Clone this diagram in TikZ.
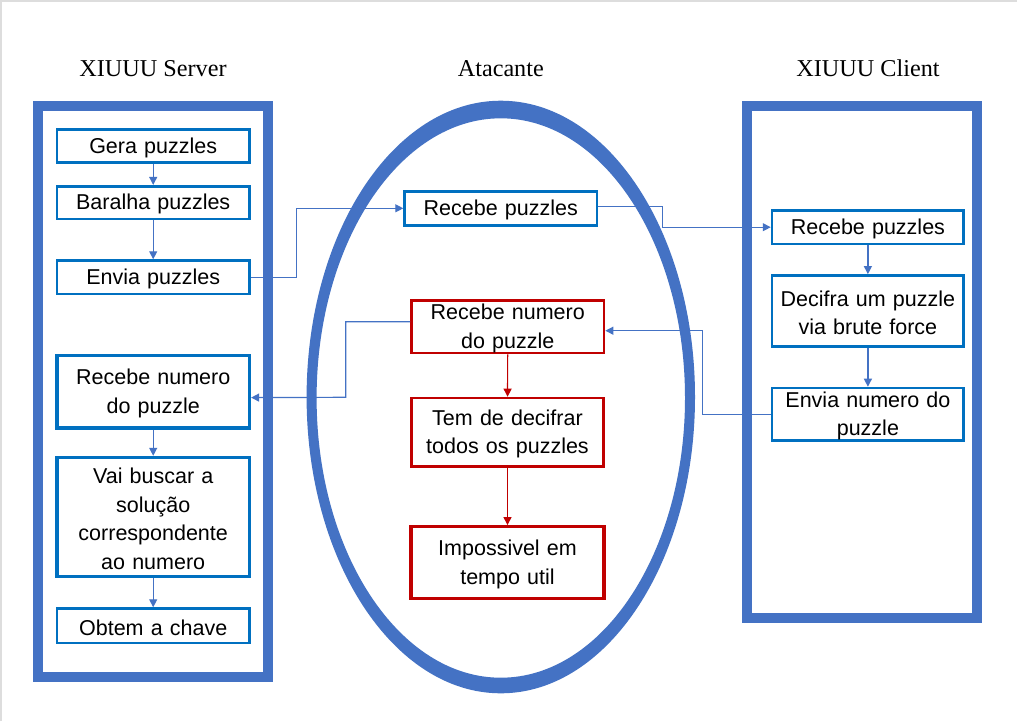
\documentclass[tikz,border=0pt]{standalone}
\usepackage{fontspec}
\setmainfont{Liberation Serif}
\newfontfamily\arialf{Liberation Sans}
\usetikzlibrary{arrows.meta,calc}
\definecolor{bigblue}{HTML}{4472C4}
\definecolor{boxblue}{HTML}{0070C0}
\definecolor{boxred}{HTML}{C00000}
\definecolor{edgegray}{HTML}{DDDDDD}
\begin{document}
\begin{tikzpicture}[x=1pt,y=-1pt,
  boxtext/.style={inner sep=0pt,fill=white,align=center,text width=190pt,
    font=\arialf\fontsize{21.5}{28.5}\selectfont,
    execute at begin node={\rule{0pt}{19.2pt}}},
  bbox/.style={boxtext,draw=boxblue,line width=2.6pt},
  bboxthick/.style={bbox,line width=3.3pt},
  rbox/.style={boxtext,draw=boxred,line width=2.6pt},
  rboxthick/.style={rbox,line width=3.3pt},
  title/.style={anchor=base,inner sep=0pt,font=\fontsize{24.2}{28}\selectfont},
  conn/.style={draw=bigblue,line width=1.2pt,-{Triangle[length=8pt,width=8pt]}},
  rconn/.style={draw=boxred,line width=1.2pt,-{Triangle[length=8pt,width=8pt]}},
  frame/.style={draw=bigblue,line width=10pt}
]
\useasboundingbox (0,0) rectangle (1017,721);
\fill[white] (0,0) rectangle (1017,721);
\draw[edgegray,line width=1.5pt] (0.75,721) -- (0.75,0.75) -- (1017,0.75);

% titles
\node[title] (tserver) at (153,76) {XIUUU Server};
\node[title] (tatk) at (500.8,76) {Atacante};
\node[title] (tclient) at (868,76) {XIUUU Client};

% containers
\draw[frame] (38,105.5) rectangle (268,676.7);
\draw[frame] (746.7,105.5) rectangle (976.7,617.8);
\fill[bigblue,even odd rule] (500.8,397) ellipse [x radius=194.2pt, y radius=296.3pt]
  (500.8,398) ellipse [x radius=184.2pt, y radius=279.7pt];

% server column
\node[bbox,minimum width=192.5pt,minimum height=33.3pt] (gera) at (153.2,146) {Gera puzzles};
\node[bbox,minimum width=192.5pt,minimum height=32.6pt] (baralha) at (153.2,202.5) {Baralha puzzles};
\node[bbox,minimum width=192.5pt,minimum height=33.3pt] (envia) at (153.2,277.2) {Envia puzzles};
\node[bboxthick,minimum width=192.5pt,minimum height=72.7pt] (srecnum) at (153.2,391.5) {Recebe numero\\do puzzle};
\node[bboxthick,minimum width=192.5pt,minimum height=118.7pt] (vai) at (153.2,516.8) {Vai buscar a\\solução\\correspondente\\ao numero};
\node[bbox,minimum width=192.5pt,minimum height=34.3pt] (obtem) at (153.2,625.7) {Obtem a chave};

% attacker column
\node[bbox,minimum width=192.4pt,minimum height=34pt] (recpz) at (500.8,208.3) {Recebe puzzles};
\node[rbox,minimum width=192.7pt,minimum height=52.4pt] (rednum) at (507.7,326.8) {Recebe numero\\do puzzle};
\node[rbox,minimum width=192.4pt,minimum height=68.4pt] (tem) at (507.5,432.2) {Tem de decifrar\\todos os puzzles};
\node[rboxthick,minimum width=193pt,minimum height=71.6pt] (imp) at (507.5,562.5) {Impossivel em\\tempo util};

% client column
\node[bbox,minimum width=191.7pt,minimum height=33.3pt] (crecpz) at (867.9,227.2) {Recebe puzzles};
\node[bbox,minimum width=191.7pt,minimum height=71pt] (decifra) at (867.9,310.9) {Decifra um puzzle\\via brute force};
\node[bbox,minimum width=191.7pt,minimum height=52.4pt] (cenvia) at (867.9,414.2) {Envia numero do\\puzzle};

% routing points
\coordinate (c1) at (296.7,208.3);
\coordinate (c2) at (662.7,227.2);
\coordinate (c3) at (702.3,330.7);
\coordinate (c4) at (345.7,397.3);

% connectors
\draw[conn] (gera) -- (baralha);
\draw[conn] (baralha) -- (envia);
\draw[conn] (srecnum) -- (vai);
\draw[conn] (vai) -- (obtem);
\draw[conn] (crecpz) -- (decifra);
\draw[conn] (decifra) -- (cenvia);
\draw[rconn] (rednum) -- (tem);
\draw[rconn] (tem) -- (imp);
\draw[conn] (envia.east) -| (c1) -- (recpz.west);
\draw[conn] ([yshift=2pt]recpz.east) -| (c2) -- (crecpz.west);
\draw[conn] (cenvia.west) -| (c3) -- ([yshift=-3.9pt]rednum.east);
\draw[conn] ([yshift=5pt]rednum.west) -| (c4) -- ([yshift=-6.1pt]srecnum.east);
\end{tikzpicture}
\end{document}
